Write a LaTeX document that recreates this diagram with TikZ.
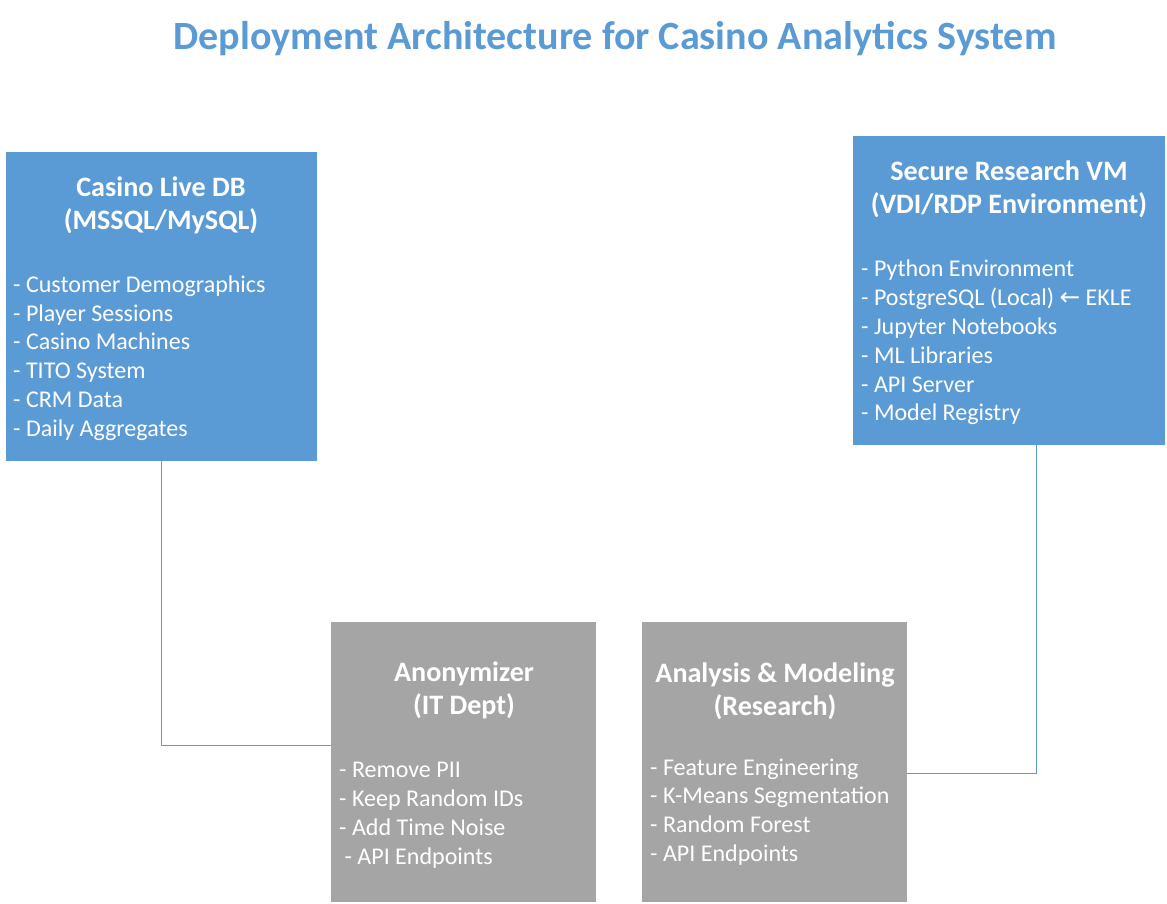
\documentclass[tikz,border=0pt]{standalone}
\usepackage{fontspec}
\setmainfont{Carlito}
\definecolor{dbblue}{HTML}{5B9BD5}
\definecolor{itgray}{HTML}{A5A5A5}
\newcommand{\pxu}{0.03cm}

\begin{document}
\begin{tikzpicture}[x=0.03cm, y=-0.03cm,
  box/.style={rectangle, inner sep=0pt, text=white},
  head/.style={align=center, text=white, inner sep=0pt, font=\fontsize{24}{28.2}\selectfont\bfseries},
  items/.style={align=left, anchor=west, text=white, inner sep=0pt, font=\fontsize{20.5}{24.6}\selectfont},
  link/.style={draw=dbblue, line width=0.8pt}]
\useasboundingbox (0,0) rectangle (1167,904);
\node[text=dbblue, font=\fontsize{34.2}{38}\selectfont\bfseries] (title) at (615,39) {Deployment Architecture for Casino Analytics System};
% blue boxes
\node[box, fill=dbblue, minimum width=311*\pxu, minimum height=309*\pxu] (db) at (161.5,306.5) {};
\node[head] (dbhead) at (161,205.5) {Casino Live DB\\(MSSQL/MySQL)};
\node[items] (dbitems) at (13,358) {- Customer Demographics\\- Player Sessions\\- Casino Machines\\- TITO System\\- CRM Data\\- Daily Aggregates};
\node[box, fill=dbblue, minimum width=312*\pxu, minimum height=309*\pxu] (vm) at (1009,290.5) {};
\node[head] (vmhead) at (1009,189.5) {Secure Research VM\\(VDI/RDP Environment)};
\node[items] (vmitems) at (861,342.5) {- Python Environment\\- PostgreSQL (Local) {\fontspec{DejaVu Sans}\fontsize{21}{24}\selectfont ←} EKLE\\- Jupyter Notebooks\\- ML Libraries\\- API Server\\- Model Registry};
% gray boxes
\node[box, fill=itgray, minimum width=265*\pxu, minimum height=280*\pxu] (anon) at (463.5,762) {};
\node[head] (anonhead) at (464,690.5) {Anonymizer\\(IT Dept)};
\node[items] (anonitems) at (339,815) {- Remove PII\\- Keep Random IDs\\- Add Time Noise\\\ - API Endpoints};
\node[box, fill=itgray, minimum width=265*\pxu, minimum height=280*\pxu] (ana) at (774.5,762) {};
\node[head] (anahead) at (775,691.5) {Analysis \& Modeling\\(Research)};
\node[items] (anaitems) at (650,812) {- Feature Engineering\\- K-Means Segmentation\\- Random Forest\\- API Endpoints};
% connectors
\draw[link] (db.south) |- ([yshift=17*\pxu]anon.west);
\draw[link] ([yshift=-11*\pxu]ana.east) -| ([xshift=27*\pxu]vm.south);
\end{tikzpicture}
\end{document}
